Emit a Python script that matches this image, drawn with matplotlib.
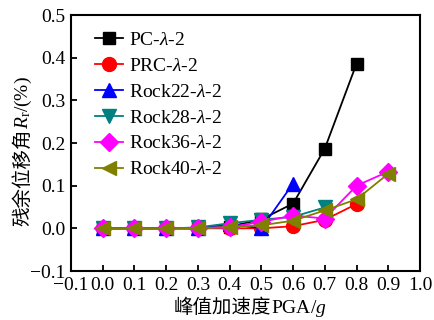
import matplotlib
matplotlib.use("Agg")
import matplotlib.pyplot as plt

plt.rcParams['font.family'] = ['Liberation Serif', 'Noto Sans CJK SC']
plt.rcParams['mathtext.fontset'] = 'custom'
plt.rcParams['mathtext.rm'] = 'Liberation Serif'
plt.rcParams['mathtext.it'] = 'Liberation Serif:italic'
plt.rcParams['axes.unicode_minus'] = True

W, H = 434, 320
FS = 14

pga_pc = [0.0, 0.1, 0.2, 0.3, 0.4, 0.5, 0.6, 0.7, 0.8]
pc = [0.0, 0.0, 0.0, 0.0, 0.004, 0.021, 0.058, 0.187, 0.386]

pga_prc = [0.0, 0.1, 0.2, 0.3, 0.4, 0.5, 0.6, 0.7, 0.8]
prc = [0.0, 0.0, 0.0, 0.0, 0.0, 0.0, 0.005, 0.02, 0.057]

pga_r22 = [0.0, 0.1, 0.2, 0.3, 0.4, 0.5, 0.6]
rock22 = [0.0, 0.0, 0.0, 0.0, 0.01, 0.0, 0.105]

pga_r28 = [0.0, 0.1, 0.2, 0.3, 0.4, 0.5, 0.6, 0.7]
rock28 = [0.0, 0.0, 0.0, 0.002, 0.012, 0.02, 0.027, 0.049]

pga_r36 = [0.0, 0.1, 0.2, 0.3, 0.4, 0.5, 0.6, 0.7, 0.8, 0.9]
rock36 = [0.0, 0.0, 0.0, 0.0, 0.003, 0.015, 0.03, 0.023, 0.10, 0.133]

pga_r40 = [0.0, 0.1, 0.2, 0.3, 0.4, 0.5, 0.6, 0.7, 0.8, 0.9]
rock40 = [0.0, 0.0, 0.0, 0.0, 0.003, 0.007, 0.018, 0.042, 0.068, 0.128]

xticks = [-0.1, 0.0, 0.1, 0.2, 0.3, 0.4, 0.5, 0.6, 0.7, 0.8, 0.9, 1.0]
yticks = [-0.1, 0.0, 0.1, 0.2, 0.3, 0.4, 0.5]

fig = plt.figure(figsize=(W / 100, H / 100), dpi=100)
ax = fig.add_axes([71/W, 1 - 271/H, 349/W, 256/H])

lw = 1.3
ax.plot(pga_pc, pc, '-s', color='black', ms=9, lw=lw, label='PC-$\\lambda$-2')
ax.plot(pga_prc, prc, '-o', color='red', ms=10, lw=lw, label='PRC-$\\lambda$-2')
ax.plot(pga_r22, rock22, '-^', color='blue', ms=10, lw=lw, label='Rock22-$\\lambda$-2')
ax.plot(pga_r28, rock28, '-v', color='#008080', ms=10, lw=lw, label='Rock28-$\\lambda$-2')
ax.plot(pga_r36, rock36, '-D', color='magenta', ms=9, lw=lw, label='Rock36-$\\lambda$-2')
ax.plot(pga_r40, rock40, '-<', color='#808000', ms=10, lw=lw, label='Rock40-$\\lambda$-2')

ax.set_xlim(-0.1, 1.0)
ax.set_ylim(-0.1, 0.5)
ax.set_xticks(xticks)
ax.set_yticks(yticks)
ax.tick_params(direction='in', labelsize=FS, width=1.3, length=4, pad=4)
for s in ax.spines.values():
    s.set_linewidth(1.5)

ax.legend(loc='upper left', bbox_to_anchor=(24/349, 1 - 16/256), frameon=False, fontsize=FS,
          handlelength=1.45, handletextpad=0.3, labelspacing=0.43,
          borderaxespad=0, borderpad=0)

# axis labels: Chinese part and Latin part drawn piece by piece
renderer = fig.canvas.get_renderer()


def draw_label(pieces, cx, cy, rotation=0):
    widths = []
    for s, fam in pieces:
        t = fig.text(0, 0, s, fontsize=FS, family=fam)
        widths.append(t.get_window_extent(renderer).width)
        t.remove()
    total = sum(widths)
    if rotation == 0:
        pos = cx - total / 2
    else:
        pos = cy + total / 2   # pixels from top, text runs upward
    for (s, fam), w in zip(pieces, widths):
        if rotation == 0:
            fig.text(pos / W, 1 - cy / H, s, fontsize=FS, family=fam,
                     ha='left', va='baseline')
            pos += w
        else:
            fig.text(cx / W, 1 - pos / H, s, fontsize=FS, family=fam,
                     ha='left', va='baseline', rotation=90, rotation_mode='anchor')
            pos -= w


draw_label([('峰值加速度', 'Noto Sans CJK SC'), ('PGA/$g$', 'Liberation Serif')],
           250, 313)
draw_label([('残余位移角', 'Noto Sans CJK SC'), ('$R_{\\rm r}$/(%)', 'Liberation Serif')],
           28, 151, rotation=90)

fig.savefig('out.png', dpi=100)
